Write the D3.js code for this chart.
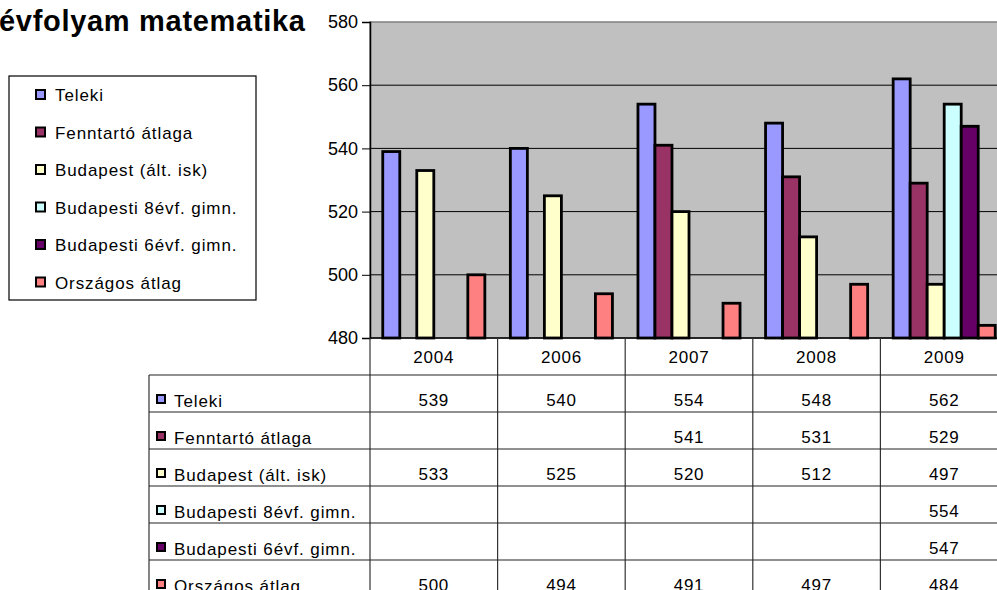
<!DOCTYPE html>
<html><head><meta charset="utf-8">
<script src="https://cdn.jsdelivr.net/npm/d3@7"></script>
<style>
html,body{margin:0;padding:0;background:#fff;overflow:hidden}
text{font-family:"Liberation Sans",Arial,sans-serif}
</style></head>
<body><svg id="c" width="997" height="590"></svg>
<script>
const titleText = "évfolyam matematika";
const years = ["2004","2006","2007","2008","2009"];
const seriesNames = ["Teleki","Fenntartó átlaga","Budapest (ált. isk)","Budapesti 8évf. gimn.","Budapesti 6évf. gimn.","Országos átlag"];
const teleki = [539,540,554,548,562];
const fenntarto = [null,null,541,531,529];
const budapest = [533,525,520,512,497];
const bp8 = [null,null,null,null,554];
const bp6 = [null,null,null,null,547];
const orszagos = [500,494,491,497,484];
const yTicks = [480,500,520,540,560,580];
const colors = ["#9999FF","#993366","#FFFFCC","#CCFFFF","#660066","#FF8080"];

const seriesValues = [teleki,fenntarto,budapest,bp8,bp6,orszagos];
const svg = d3.select("#c");

const L = 370, R = 1008, T = 22, B = 338;
const x = d3.scaleBand().domain(years).range([L,R]).padding(0);
const xi = d3.scaleBand().domain(seriesNames).range([0,x.bandwidth()]).paddingInner(0).paddingOuter(0.75);
const y = d3.scaleLinear().domain([480,580]).range([B,T]);

// plot background
svg.append("rect").attr("x",L).attr("y",T).attr("width",R-L).attr("height",B-T)
  .attr("fill","#C0C0C0").attr("stroke","#808080").attr("stroke-width",1.5);

// gridlines
svg.append("g").selectAll("line").data(yTicks.filter(t=>t>480 && t<580)).join("line")
  .attr("x1",L).attr("x2",R).attr("y1",d=>y(d)).attr("y2",d=>y(d))
  .attr("stroke","#000").attr("stroke-width",1);

// y axis
const yAxis = d3.axisLeft(y).tickValues(yTicks).tickSize(8).tickPadding(4).tickFormat(d3.format("d"));
const ga = svg.append("g").attr("transform",`translate(${L},0)`).call(yAxis);
ga.select(".domain").attr("stroke","#000").attr("stroke-width",1.5);
ga.selectAll(".tick line").attr("stroke","#000");
ga.selectAll(".tick text").attr("font-size",18).attr("fill","#000").attr("font-family","Liberation Sans, Arial, sans-serif");

// bars
const barData = [];
seriesNames.forEach((s,si)=>{
  years.forEach((yr,yi)=>{
    const v = seriesValues[si][yi];
    if (v!=null) barData.push({s,si,yr,v});
  });
});
svg.append("g").selectAll("rect").data(barData).join("rect")
  .attr("x",d=>x(d.yr)+xi(d.s))
  .attr("y",d=>y(d.v))
  .attr("width",xi.bandwidth())
  .attr("height",d=>y(480)-y(d.v))
  .attr("fill",d=>colors[d.si]).attr("stroke","#000").attr("stroke-width",2.8);

// x axis line
svg.append("line").attr("x1",L).attr("x2",R).attr("y1",B).attr("y2",B).attr("stroke","#000").attr("stroke-width",1.5);

// data table
const rowH = 37;
const headerBottom = 375;
const tableLeft = 149;
const tg = svg.append("g");
tg.selectAll("text.yr").data(years).join("text").attr("class","yr")
  .attr("x",d=>x(d)+x.bandwidth()/2).attr("y",363)
  .attr("text-anchor","middle").attr("font-size",17).attr("letter-spacing",0.8).text(d=>d);
tg.selectAll("line.v").data(years).join("line").attr("class","v")
  .attr("x1",d=>x(d)).attr("x2",d=>x(d)).attr("y1",B).attr("y2",600)
  .attr("stroke","#333").attr("stroke-width",1.2);
tg.append("line").attr("x1",tableLeft).attr("x2",tableLeft).attr("y1",headerBottom).attr("y2",600).attr("stroke","#333").attr("stroke-width",1.2);
const hl = d3.range(seriesNames.length+1).map(i=>headerBottom+i*rowH);
tg.selectAll("line.h").data(hl).join("line").attr("class","h")
  .attr("x1",tableLeft).attr("x2",R).attr("y1",d=>d).attr("y2",d=>d)
  .attr("stroke","#222").attr("stroke-width",1.2);
seriesNames.forEach((s,si)=>{
  const top = headerBottom + si*rowH;
  tg.append("rect").attr("x",157).attr("y",top+20).attr("width",8).attr("height",8)
    .attr("fill",colors[si]).attr("stroke","#000").attr("stroke-width",2);
  tg.append("text").attr("x",174).attr("y",top+32).attr("font-size",17).attr("letter-spacing",0.9).text(s);
  years.forEach((yr,yi)=>{
    const v = seriesValues[si][yi];
    if (v!=null) tg.append("text").attr("x",x(yr)+x.bandwidth()/2).attr("y",top+30.5)
      .attr("text-anchor","middle").attr("font-size",17).attr("letter-spacing",0.7).text(v);
  });
});

// title
svg.append("text").attr("x",-1).attr("y",31)
  .attr("font-size",29).attr("font-weight","bold")
  .attr("textLength",306).attr("lengthAdjust","spacing").text(titleText);

// legend
const lg = svg.append("g");
lg.append("rect").attr("x",9).attr("y",76).attr("width",247).attr("height",224)
  .attr("fill","#fff").attr("stroke","#000").attr("stroke-width",1.2);
seriesNames.forEach((s,si)=>{
  const cy = 95 + si*37.5;
  lg.append("rect").attr("x",36).attr("y",cy-5).attr("width",9).attr("height",9)
    .attr("fill",colors[si]).attr("stroke","#000").attr("stroke-width",2);
  lg.append("text").attr("x",55).attr("y",cy+6).attr("font-size",17).attr("letter-spacing",0.9).text(s);
});
</script></body></html>
